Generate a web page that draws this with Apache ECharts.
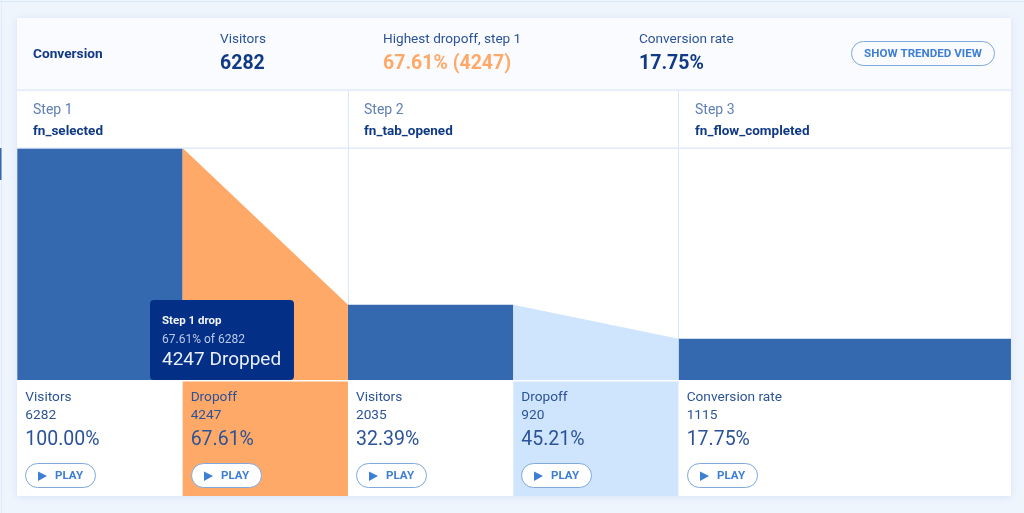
<!DOCTYPE html>
<html>
<head>
<meta charset="utf-8">
<title>Conversion</title>
<script src="https://cdn.jsdelivr.net/npm/echarts@6/dist/echarts.min.js"></script>
<style>
  html, body { margin: 0; padding: 0; background: #eff5fd; }
  #chart { width: 1024px; height: 513px; }
</style>
</head>
<body>
<div id="chart"></div>
<script>
// values
const stepNames = ['Step 1', 'Step 2', 'Step 3'];
const eventNames = ['fn_selected', 'fn_tab_opened', 'fn_flow_completed'];
const visitors = [6282, 2035, 1115];
const dropoffs = [4247, 920];
const visitorPercents = ['100.00%', '32.39%', '17.75%'];
const dropoffPercents = ['67.61%', '45.21%'];
const summaryLabels = ['Visitors', 'Highest dropoff, step 1', 'Conversion rate'];
const summaryValues = ['6282', '67.61% (4247)', '17.75%'];

const FONT = 'Roboto';
const NAVY = '#103a86';
const MID = '#2c5397';
const STEP_GREY = '#6080b4';
const BLUE = '#3469b0';
const ORANGE = '#ffa968';
const PALE = '#cfe5fe';
const LINK = '#3f7fd3';
const LINE = '#dbe8fa';

// x axis runs in dropoff columns: each step is two columns wide
const visitorCols = [0, 2, 4];
const visitorColEnds = [1, 3, 6.01];
const dropCols = [1, 3];

const GRID_LEFT = 17.3, GRID_RIGHT = 1009.3, GRID_TOP = 148, GRID_BOTTOM = 380;

const funnelData = [];
visitors.forEach((v, i) => {
  funnelData.push({ value: [visitorCols[i], visitorColEnds[i], v, v], kind: 'visitors' });
});
dropoffs.forEach((d, i) => {
  funnelData.push({ value: [dropCols[i], dropCols[i] + 1, visitors[i], visitors[i] - d], kind: 'dropoff', idx: i });
});

// bottom cells, left to right
const cells = [
  { col: 0, end: 1, title: 'Visitors', count: visitors[0], pct: visitorPercents[0], fill: '#fff' },
  { col: 1, end: 2, title: 'Dropoff', count: dropoffs[0], pct: dropoffPercents[0], fill: ORANGE },
  { col: 2, end: 3, title: 'Visitors', count: visitors[1], pct: visitorPercents[1], fill: '#fff' },
  { col: 3, end: 4, title: 'Dropoff', count: dropoffs[1], pct: dropoffPercents[1], fill: PALE },
  { col: 4, end: 6.01, title: 'Conversion rate', count: visitors[2], pct: visitorPercents[2], fill: '#fff' }
];

function txt(x, y, text, size, color, weight, align) {
  return {
    type: 'text',
    style: {
      x, y, text,
      fontFamily: FONT, fontSize: size, fontWeight: weight || 400,
      fill: color, align: align || 'left', verticalAlign: 'middle'
    }
  };
}

function renderFunnel(params, api) {
  const x0 = api.coord([api.value(0), 0]);
  const x1 = api.coord([api.value(1), 0]);
  const yl = api.coord([0, api.value(2)])[1];
  const yr = api.coord([0, api.value(3)])[1];
  const item = funnelData[params.dataIndex];
  const color = item.kind === 'visitors' ? BLUE : (item.idx === 0 ? ORANGE : PALE);
  return {
    type: 'polygon',
    shape: { points: [[x0[0], yl], [x1[0], yr], [x1[0], x0[1]], [x0[0], x0[1]]] },
    style: { fill: color }
  };
}

function renderCell(params, api) {
  const c = cells[params.dataIndex];
  const x0 = api.coord([c.col, 0])[0];
  const x1 = api.coord([c.end, 0])[0];
  const tx = x0 + 8;
  const bx = Math.round(tx); // keep button outline crisp
  return {
    type: 'group',
    children: [
      { type: 'rect', shape: { x: x0, y: 381.5, width: x1 - x0, height: 114.5 }, style: { fill: c.fill } },
      txt(tx, 397.5, c.title, 13.7, MID),
      txt(tx, 415.5, String(c.count), 13.7, MID),
      txt(tx, 440, c.pct, 19.5, MID),
      { type: 'rect', shape: { x: bx + 0.5, y: 463.5, width: 70, height: 24, r: 12 }, style: { fill: '#fff', stroke: '#7fa8dd', lineWidth: 1 } },
      { type: 'polygon', shape: { points: [[bx + 13, 471.5], [bx + 22, 476], [bx + 13, 481]] }, style: { fill: LINK } },
      txt(bx + 30, 476, 'PLAY', 11.6, LINK, 700)
    ]
  };
}

const vLines = [348, 678];
const graphicEls = [
  // card with soft shadow
  { type: 'rect', z: -10, shape: { x: 17, y: 18, width: 994, height: 478 },
    style: { fill: '#fff', shadowBlur: 8, shadowColor: 'rgba(110,150,210,0.18)', shadowOffsetY: 1 } },
  { type: 'rect', z: -9, shape: { x: 17, y: 18, width: 994, height: 72 }, style: { fill: '#f9fbff' } },
  // page edge lines
  { type: 'rect', z: -9, shape: { x: 0, y: 1, width: 1024, height: 1 }, style: { fill: '#dbe8f8' } },
  { type: 'rect', z: -9, shape: { x: 1, y: 0, width: 1, height: 513 }, style: { fill: '#e2ecfa' } },
  { type: 'rect', z: -9, shape: { x: 0, y: 148, width: 1.5, height: 32 }, style: { fill: BLUE } },
  // table rules
  { type: 'rect', z: 5, shape: { x: 17, y: 89.5, width: 994, height: 1.2 }, style: { fill: LINE } },
  { type: 'rect', z: 5, shape: { x: 17, y: 147.5, width: 994, height: 1.2 }, style: { fill: LINE } },
  // header
  Object.assign(txt(33, 54.5, 'Conversion', 13.7, NAVY, 700), { z: 6 }),
  // trended view button
  { type: 'rect', z: 6, shape: { x: 851.5, y: 41.5, width: 143, height: 24, r: 12 }, style: { fill: 'transparent', stroke: '#7fa8dd', lineWidth: 1 } },
  Object.assign(txt(923, 54, 'SHOW TRENDED VIEW', 11.6, LINK, 700, 'center'), { z: 6 }),
  // tooltip over the first dropoff
  { type: 'rect', z: 20, shape: { x: 150, y: 300, width: 144, height: 80, r: 4 }, style: { fill: '#032f87' } },
  Object.assign(txt(162, 321.5, 'Step 1 drop', 11.5, '#f2f5fb', 700), { z: 21 }),
  Object.assign(txt(162, 339.5, '67.61% of 6282', 12, '#b9c9e6'), { z: 21 }),
  Object.assign(txt(162, 360, '4247 Dropped', 19, '#e9eff9'), { z: 21 })
];

const summaryX = [220, 383, 639];
summaryLabels.forEach((label, i) => {
  graphicEls.push(Object.assign(txt(summaryX[i], 39.5, label, 13.6, MID), { z: 6 }));
  graphicEls.push(Object.assign(txt(summaryX[i], 64.5, summaryValues[i], 19.5, i === 1 ? ORANGE : NAVY, 700), { z: 6 }));
});

const stepX = [33, 364, 695];
stepNames.forEach((name, i) => {
  graphicEls.push(Object.assign(txt(stepX[i], 110.5, name, 14, STEP_GREY), { z: 6 }));
  graphicEls.push(Object.assign(txt(stepX[i], 131.5, eventNames[i], 13.5, NAVY, 700), { z: 6 }));
});

vLines.forEach(x => {
  graphicEls.push({ type: 'rect', z: 1, shape: { x: x, y: 90, width: 1, height: 290 }, style: { fill: LINE } });
});

const myChart = echarts.init(document.getElementById('chart'));
const option = {
  animation: false,
  backgroundColor: '#eff5fd',
  textStyle: { fontFamily: FONT },
  grid: { left: GRID_LEFT, right: 1024 - GRID_RIGHT, top: GRID_TOP, bottom: 513 - GRID_BOTTOM, containLabel: false },
  xAxis: { type: 'value', min: 0, max: 6, show: false },
  yAxis: { type: 'value', min: 0, max: 6282, show: false },
  graphic: graphicEls,
  series: [
    {
      type: 'custom',
      name: 'funnel',
      z: 3,
      clip: false,
      renderItem: renderFunnel,
      encode: { x: [0, 1], y: [2, 3] },
      data: funnelData
    },
    {
      type: 'custom',
      name: 'cells',
      z: 3,
      clip: false,
      renderItem: renderCell,
      data: cells.map(c => [c.col, c.end])
    }
  ]
};
myChart.setOption(option);
window.onresize = function() {
  myChart.resize();
};
</script>
</body>
</html>
